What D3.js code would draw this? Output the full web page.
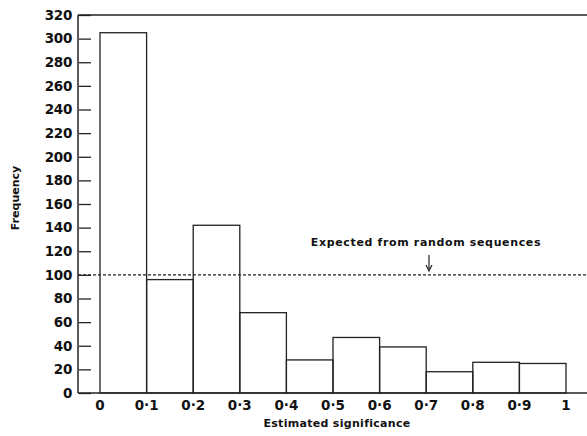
<!DOCTYPE html>
<html>
<head>
<meta charset="utf-8">
<script src="https://cdn.jsdelivr.net/npm/d3@7"></script>
<style>
  body { margin: 0; background: #fff; }
  text { font-family: "DejaVu Sans", Verdana, sans-serif; fill: #111; }
</style>
</head>
<body>
<svg width="587" height="436"></svg>
<script>
// histogram bins (lower edge) and frequencies
const binStarts = [0, 0.1, 0.2, 0.3, 0.4, 0.5, 0.6, 0.7, 0.8, 0.9];
const frequencies = [305, 96, 142, 68, 28, 47, 39, 18, 26, 25];
const xTickValues = [0, 0.1, 0.2, 0.3, 0.4, 0.5, 0.6, 0.7, 0.8, 0.9, 1];
const xTickLabels = ["0", "0·1", "0·2", "0·3", "0·4", "0·5", "0·6", "0·7", "0·8", "0·9", "1"];
const yTickValues = d3.range(0, 321, 20);
const expected = 100;

const svg = d3.select("svg");
const plotLeft = 78, plotRight = 587, plotTop = 15, plotBottom = 393;

const x = d3.scaleLinear().domain([0, 1]).range([100, 566]);
const y = d3.scaleLinear().domain([0, 320]).range([plotBottom, plotTop]);

// frame: left axis, top line, baseline
svg.append("line").attr("x1", plotLeft).attr("x2", plotLeft).attr("y1", plotTop).attr("y2", plotBottom)
  .attr("stroke", "#222").attr("stroke-width", 1.5);
svg.append("line").attr("x1", plotLeft).attr("x2", plotRight).attr("y1", plotTop).attr("y2", plotTop)
  .attr("stroke", "#222").attr("stroke-width", 1.5);
svg.append("line").attr("x1", plotLeft).attr("x2", plotRight).attr("y1", plotBottom).attr("y2", plotBottom)
  .attr("stroke", "#222").attr("stroke-width", 1.5);

// y axis with inward ticks
const yAxis = d3.axisRight(y).tickValues(yTickValues).tickSize(12).tickFormat(d => "");
const gy = svg.append("g").attr("transform", `translate(${plotLeft + 1},0)`).call(yAxis);
gy.select(".domain").remove();
gy.selectAll(".tick line").attr("stroke", "#222").attr("stroke-width", 1.3);

svg.append("g").selectAll("text").data(yTickValues).join("text")
  .attr("x", plotLeft - 6).attr("y", d => y(d)).attr("dy", "0.36em")
  .attr("text-anchor", "end").attr("font-size", 13.5).attr("font-weight", "bold")
  .attr("letter-spacing", -0.3)
  .text(d => d);

// bars
svg.append("g").selectAll("rect").data(binStarts).join("rect")
  .attr("x", d => x(d))
  .attr("width", d => x(d + 0.1) - x(d))
  .attr("y", (d, i) => y(frequencies[i]))
  .attr("height", (d, i) => y(0) - y(frequencies[i]))
  .attr("fill", "none").attr("stroke", "#222").attr("stroke-width", 1.3);

// x tick labels
svg.append("g").selectAll("text").data(xTickValues).join("text")
  .attr("x", d => x(d)).attr("y", 410)
  .attr("text-anchor", "middle").attr("font-size", 13.5).attr("font-weight", "bold")
  .text((d, i) => xTickLabels[i]);

// expected line
svg.append("line").attr("x1", plotLeft).attr("x2", plotRight)
  .attr("y1", y(expected)).attr("y2", y(expected))
  .attr("stroke", "#222").attr("stroke-width", 1.3).attr("stroke-dasharray", "3,2");

svg.append("text").attr("x", 426).attr("y", 246)
  .attr("text-anchor", "middle").attr("font-size", 11).attr("font-weight", "bold")
  .attr("letter-spacing", 0.65)
  .text("Expected from random sequences");
svg.append("line").attr("x1", 429).attr("x2", 429).attr("y1", 255).attr("y2", 270)
  .attr("stroke", "#222").attr("stroke-width", 1.2);
svg.append("path").attr("d", "M426,265 L429,271 L432,265")
  .attr("fill", "none").attr("stroke", "#222").attr("stroke-width", 1.2);

// axis titles
svg.append("text").attr("x", 337).attr("y", 427)
  .attr("text-anchor", "middle").attr("font-size", 11).attr("font-weight", "bold")
  .attr("letter-spacing", 0.3)
  .text("Estimated significance");
svg.append("text").attr("transform", "translate(19,198) rotate(-90)")
  .attr("text-anchor", "middle").attr("font-size", 11).attr("font-weight", "bold")
  .text("Frequency");
</script>
</body>
</html>
